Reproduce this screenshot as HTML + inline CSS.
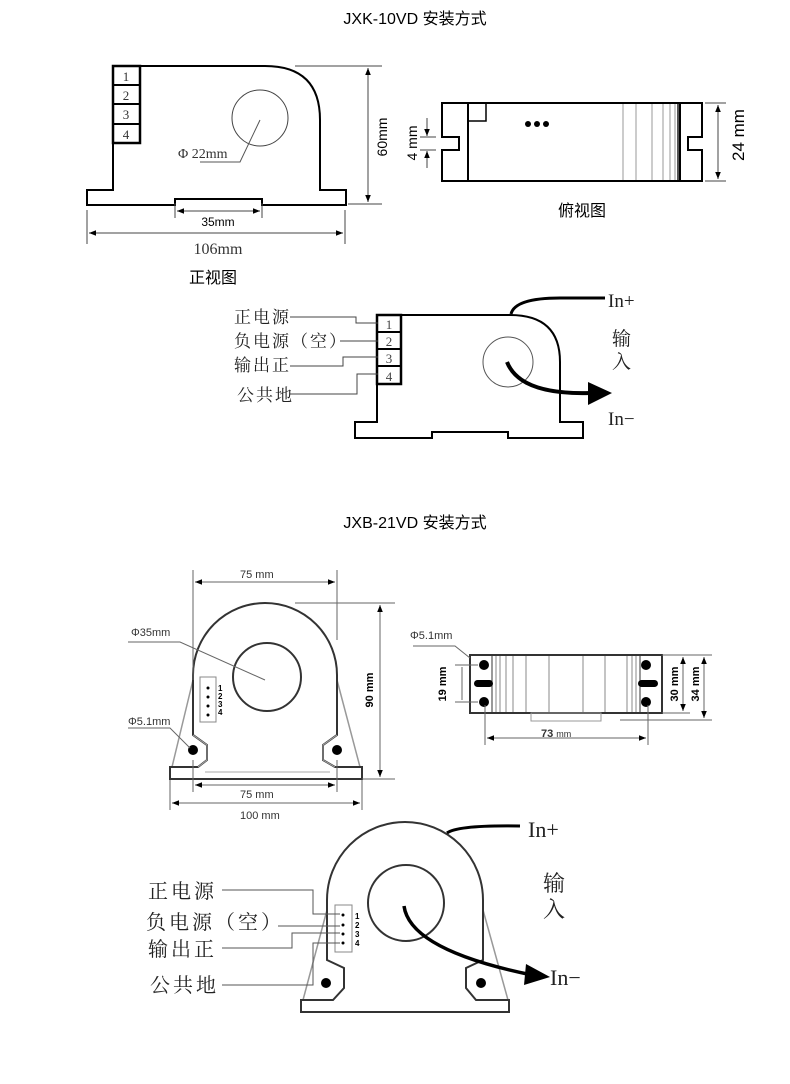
<!DOCTYPE html>
<html><head><meta charset="utf-8"><style>
html,body{margin:0;padding:0;background:#fff;}
svg{display:block;}
.s{font-family:"Liberation Sans","Noto Sans CJK SC",sans-serif;}
.r{font-family:"Liberation Serif","Noto Serif CJK SC",serif;}
</style></head><body>
<svg width="790" height="1084" viewBox="0 0 790 1084" xmlns="http://www.w3.org/2000/svg">
<defs>
<marker id="a" viewBox="0 0 10 10" refX="10" refY="5" markerWidth="7" markerHeight="7" orient="auto-start-reverse"><path d="M0,1 L10,5 L0,9 Z" fill="#000"/></marker>
</defs>
<text x="415" y="24" text-anchor="middle" class="s" font-size="16">JXK-10VD  安装方式</text>

<!-- front view -->
<g fill="none" stroke="#000" stroke-width="2">
<path d="M113,190 V66 H265 Q320,66 320,120 V190 H346 V205 H262 V199 H258 V199 H175 V205 H87 V190 Z"/>
<rect x="113" y="66" width="27" height="77" stroke-width="2.5"/>
<line x1="113" y1="85" x2="140" y2="85"/><line x1="113" y1="104" x2="140" y2="104"/><line x1="113" y1="124" x2="140" y2="124"/>
</g>
<g class="r" font-size="13" fill="#333" text-anchor="middle"><text x="126" y="81">1</text><text x="126" y="100">2</text><text x="126" y="119">3</text><text x="126" y="139">4</text></g>
<circle cx="260" cy="118" r="28" fill="none" stroke="#444" stroke-width="1"/>
<path d="M260,120 L240,162 H200" fill="none" stroke="#555" stroke-width="1"/>
<text x="178" y="158" class="r" font-size="14" fill="#333">Φ 22mm</text>
<g stroke="#444" stroke-width="1" fill="none">
<line x1="295" y1="66" x2="382" y2="66"/><line x1="348" y1="204" x2="382" y2="204"/>
<line x1="368" y1="68" x2="368" y2="202" marker-start="url(#a)" marker-end="url(#a)"/>
<line x1="175" y1="203" x2="175" y2="218"/><line x1="262" y1="203" x2="262" y2="218"/>
<line x1="177" y1="211" x2="260" y2="211" marker-start="url(#a)" marker-end="url(#a)"/>
<line x1="87" y1="210" x2="87" y2="244"/><line x1="345" y1="210" x2="345" y2="244"/>
<line x1="89" y1="233" x2="343" y2="233" marker-start="url(#a)" marker-end="url(#a)"/>
</g>
<text x="387" y="137" transform="rotate(-90 387 137)" text-anchor="middle" class="s" font-size="14">60mm</text>
<text x="218" y="226" text-anchor="middle" class="s" font-size="12">35mm</text>
<text x="218" y="254" text-anchor="middle" class="r" font-size="16" fill="#333">106mm</text>
<text x="213" y="283" text-anchor="middle" class="s" font-size="16">正视图</text>

<!-- top view -->
<g fill="none" stroke="#000" stroke-width="2">
<path d="M442,103 H702 V137 H688 V150 H702 V181 H442 V150 H459 V137 H442 Z"/>
<line x1="468" y1="103" x2="468" y2="181"/><line x1="680" y1="103" x2="680" y2="181"/>
<rect x="468" y="103" width="18" height="18" stroke-width="1.5"/>
</g>
<g stroke="#999" stroke-width="1"><line x1="623" y1="104" x2="623" y2="180"/><line x1="636" y1="104" x2="636" y2="180"/><line x1="652" y1="104" x2="652" y2="180"/><line x1="663" y1="104" x2="663" y2="180"/><line x1="670" y1="104" x2="670" y2="180"/><line x1="675" y1="104" x2="675" y2="180"/><line x1="678" y1="104" x2="678" y2="180" stroke="#555" stroke-width="2"/></g>
<circle cx="528" cy="124" r="3"/><circle cx="537" cy="124" r="3"/><circle cx="546" cy="124" r="3"/>
<g stroke="#444" stroke-width="1" fill="none">
<line x1="705" y1="103" x2="726" y2="103"/><line x1="705" y1="181" x2="726" y2="181"/>
<line x1="718" y1="105" x2="718" y2="179" marker-start="url(#a)" marker-end="url(#a)"/>
<line x1="420" y1="137" x2="436" y2="137"/><line x1="420" y1="150" x2="436" y2="150"/>
<line x1="427" y1="118" x2="427" y2="136" marker-end="url(#a)"/><line x1="427" y1="168" x2="427" y2="151" marker-end="url(#a)"/>
</g>
<text x="744" y="135" transform="rotate(-90 744 135)" text-anchor="middle" class="s" font-size="17">24 mm</text>
<text x="417" y="143" transform="rotate(-90 417 143)" text-anchor="middle" class="s" font-size="14">4 mm</text>
<text x="582" y="216" text-anchor="middle" class="s" font-size="16">俯视图</text>

<!-- wiring 1 -->
<g fill="none" stroke="#000" stroke-width="2">
<path d="M377,422 V315 H510 Q560,315 560,362 V422 H583 V438 H508 V432 H432 V438 H355 V422 Z"/>
<rect x="377" y="315" width="24" height="69" stroke-width="2.5"/>
<line x1="377" y1="332" x2="401" y2="332"/><line x1="377" y1="349" x2="401" y2="349"/><line x1="377" y1="366" x2="401" y2="366"/>
</g>
<g class="r" font-size="13" fill="#444" text-anchor="middle"><text x="389" y="329">1</text><text x="389" y="346">2</text><text x="389" y="363">3</text><text x="389" y="381">4</text></g>
<circle cx="508" cy="362" r="25" fill="none" stroke="#555" stroke-width="1"/>
<path d="M511,314 Q515,298 560,298 H605" fill="none" stroke="#000" stroke-width="3"/>
<path d="M507,362 Q520,395 590,393" fill="none" stroke="#000" stroke-width="4"/>
<path d="M588,382 L612,393 L588,405 Z" fill="#000"/>
<g stroke="#444" stroke-width="1" fill="none">
<path d="M290,317 H356 V323 H378"/><path d="M340,341 H378"/><path d="M290,366 H343 V357 H378"/><path d="M290,394 H357 V374 H378"/>
</g>
<g class="r" font-size="17" fill="#222" letter-spacing="2"><text x="234" y="323">正电源</text><text x="234" y="347">负电源（空）</text><text x="234" y="371">输出正</text><text x="237" y="401">公共地</text></g>
<g class="r" font-size="19" fill="#222"><text x="608" y="307">In+</text><text x="608" y="425">In−</text><text x="612" y="345">输</text><text x="612" y="368">入</text></g>

<text x="415" y="528" text-anchor="middle" class="s" font-size="16">JXB-21VD  安装方式</text>

<!-- JXB front -->
<g fill="none" stroke="#999" stroke-width="1.5">
<line x1="193" y1="680" x2="172" y2="767"/><line x1="337" y1="680" x2="360" y2="767"/>
</g>
<path d="M193,735 V675 A72,72 0 0 1 337,675 V735 L323,745 V760 L335,767 H362 V779 H170 V767 H198 L207,760 V745 Z" fill="none" stroke="#333" stroke-width="2"/>
<path d="M198,767 L207,760 V745 L193,735 M337,735 L323,745 V760 L335,767 M205,772 H330" fill="none" stroke="#aaa" stroke-width="1"/>
<circle cx="267" cy="677" r="34" fill="none" stroke="#333" stroke-width="2"/>
<circle cx="193" cy="750" r="5"/><circle cx="337" cy="750" r="5"/>
<rect x="200" y="677" width="16" height="45" fill="none" stroke="#888"/>
<g fill="#000"><circle cx="208" cy="688" r="1.5"/><circle cx="208" cy="697" r="1.5"/><circle cx="208" cy="706" r="1.5"/><circle cx="208" cy="715" r="1.5"/></g>
<g class="s" font-size="8" font-weight="bold"><text x="218" y="691">1</text><text x="218" y="699">2</text><text x="218" y="707">3</text><text x="218" y="715">4</text></g>
<g stroke="#666" stroke-width="1" fill="none">
<line x1="193" y1="570" x2="193" y2="680"/><line x1="337" y1="570" x2="337" y2="640"/>
<line x1="195" y1="582" x2="335" y2="582" marker-start="url(#a)" marker-end="url(#a)"/>
<line x1="295" y1="603" x2="395" y2="603"/><line x1="362" y1="779" x2="395" y2="779"/>
<line x1="380" y1="605" x2="380" y2="777" marker-start="url(#a)" marker-end="url(#a)"/>
<line x1="193" y1="760" x2="193" y2="792"/><line x1="337" y1="760" x2="337" y2="792"/>
<line x1="195" y1="785" x2="335" y2="785" marker-start="url(#a)" marker-end="url(#a)"/>
<line x1="170" y1="780" x2="170" y2="810"/><line x1="362" y1="780" x2="362" y2="810"/>
<line x1="172" y1="803" x2="360" y2="803" marker-start="url(#a)" marker-end="url(#a)"/>
<path d="M128,642 H180 L265,680"/><path d="M128,728 H170 L190,748"/>
</g>
<g class="s" font-size="11" fill="#333"><text x="240" y="578">75 mm</text><text x="240" y="798">75 mm</text><text x="240" y="819">100 mm</text><text x="131" y="636">Φ35mm</text><text x="128" y="725">Φ5.1mm</text></g>
<text x="373" y="690" transform="rotate(-90 373 690)" text-anchor="middle" class="s" font-size="11" font-weight="bold">90 mm</text>

<!-- JXB side -->
<rect x="470" y="655" width="192" height="58" fill="none" stroke="#333" stroke-width="2"/>
<g stroke="#888" stroke-width="1"><line x1="492" y1="655" x2="492" y2="713" stroke="#333"/><line x1="640" y1="655" x2="640" y2="713" stroke="#333"/><line x1="496" y1="656" x2="496" y2="712"/><line x1="500" y1="656" x2="500" y2="712"/><line x1="506" y1="656" x2="506" y2="712"/><line x1="513" y1="656" x2="513" y2="712"/><line x1="526" y1="656" x2="526" y2="712"/><line x1="549" y1="656" x2="549" y2="712"/><line x1="583" y1="656" x2="583" y2="712"/><line x1="605" y1="656" x2="605" y2="712"/><line x1="627" y1="656" x2="627" y2="712"/><line x1="632" y1="656" x2="632" y2="712"/><line x1="636" y1="656" x2="636" y2="712"/></g>
<rect x="531" y="713" width="70" height="8" fill="none" stroke="#999"/>
<circle cx="484" cy="665" r="5"/><circle cx="484" cy="702" r="5"/><circle cx="646" cy="665" r="5"/><circle cx="646" cy="702" r="5"/>
<rect x="474" y="680" width="19" height="7" rx="3.5"/><rect x="638" y="680" width="20" height="7" rx="3.5"/>
<g stroke="#666" stroke-width="1" fill="none">
<path d="M413,646 H455 L470,658"/>
<line x1="455" y1="665" x2="478" y2="665"/><line x1="455" y1="702" x2="478" y2="702"/>
<line x1="462" y1="667" x2="462" y2="700"/>
<line x1="485" y1="705" x2="485" y2="745"/><line x1="648" y1="705" x2="648" y2="745"/>
<line x1="487" y1="738" x2="646" y2="738" marker-start="url(#a)" marker-end="url(#a)"/>
<line x1="662" y1="655" x2="712" y2="655"/><line x1="662" y1="713" x2="690" y2="713"/><line x1="620" y1="720" x2="712" y2="720"/>
<line x1="683" y1="657" x2="683" y2="711" marker-start="url(#a)" marker-end="url(#a)"/>
<line x1="704" y1="657" x2="704" y2="718" marker-start="url(#a)" marker-end="url(#a)"/>
</g>
<g class="s" font-size="11" fill="#333" font-weight="bold"><text x="410" y="639" font-weight="normal">Φ5.1mm</text><text x="541" y="737">73 <tspan font-size="9" font-weight="normal">mm</tspan></text></g>
<text x="446" y="684" transform="rotate(-90 446 684)" text-anchor="middle" class="s" font-size="11" font-weight="bold">19 mm</text>
<text x="678" y="684" transform="rotate(-90 678 684)" text-anchor="middle" class="s" font-size="11" font-weight="bold">30 mm</text>
<text x="699" y="684" transform="rotate(-90 699 684)" text-anchor="middle" class="s" font-size="11" font-weight="bold">34 mm</text>

<!-- wiring 2 -->
<g fill="none" stroke="#999" stroke-width="1.5"><line x1="327" y1="910" x2="303" y2="1000"/><line x1="483" y1="910" x2="508" y2="1000"/></g>
<path d="M327,960 V900 A78,78 0 0 1 483,900 V960 L466,968 V988 L476,1000 H509 V1012 H301 V1000 H333 L344,988 V968 Z" fill="none" stroke="#333" stroke-width="2"/>
<circle cx="406" cy="903" r="38" fill="none" stroke="#333" stroke-width="2"/>
<circle cx="326" cy="983" r="5"/><circle cx="481" cy="983" r="5"/>
<rect x="335" y="905" width="17" height="47" fill="none" stroke="#888"/>
<g fill="#000"><circle cx="343" cy="915" r="1.5"/><circle cx="343" cy="925" r="1.5"/><circle cx="343" cy="934" r="1.5"/><circle cx="343" cy="943" r="1.5"/></g>
<g class="s" font-size="8" font-weight="bold"><text x="355" y="919">1</text><text x="355" y="928">2</text><text x="355" y="937">3</text><text x="355" y="946">4</text></g>
<g stroke="#555" stroke-width="1" fill="none">
<path d="M222,890 H313 V914 H340"/><path d="M278,926 H340"/><path d="M222,948 H292 V933 H340"/><path d="M222,985 H313 V943 H340"/>
</g>
<g class="r" font-size="20" fill="#222" letter-spacing="3"><text x="148" y="898">正电源</text><text x="146" y="929">负电源（空）</text><text x="148" y="956">输出正</text><text x="150" y="992">公共地</text></g>
<path d="M447,833 Q458,825 520,826" fill="none" stroke="#000" stroke-width="3"/>
<path d="M404,906 Q410,950 532,975" fill="none" stroke="#000" stroke-width="3.5"/>
<path d="M526,964 L550,977 L524,985 Z" fill="#000"/>
<g class="r" font-size="22" fill="#222"><text x="528" y="837">In+</text><text x="550" y="985">In−</text><text x="543" y="891">输</text><text x="543" y="917">入</text></g>
</svg>
</body></html>
